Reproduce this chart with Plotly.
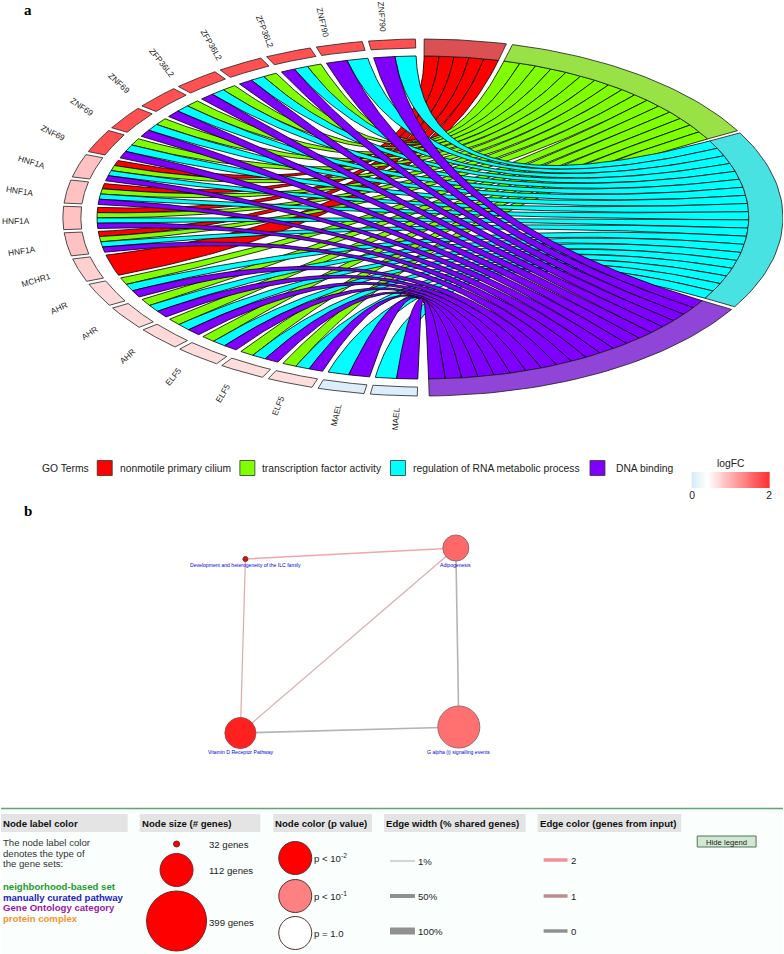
import numpy as np
import plotly.graph_objects as go

# ---------- chord data ----------
genes = ["MAEL", "MAEL", "ELF5", "ELF5", "ELF5", "AHR", "AHR", "AHR", "MCHR1",
         "HNF1A", "HNF1A", "HNF1A", "HNF1A", "ZNF69", "ZNF69", "ZNF69",
         "ZFP36L2", "ZFP36L2", "ZFP36L2", "ZNF790", "ZNF790"]
logfc = [0.06, 0.06, 0.66, 0.66, 0.66, 0.69, 0.69, 0.69, 0.76,
         0.87, 0.87, 0.87, 0.87, 1.74, 1.74, 1.74, 1.74, 1.74, 1.74, 1.74, 1.74]
terms = ["nonmotile primary cilium", "transcription factor activity",
         "regulation of RNA metabolic process", "DNA binding"]
term_colors = ["#FF0000", "#80FF00", "#00FFFF", "#8000FF"]
term_ring_colors = ["#DB5052", "#98E246", "#48E2E2", "#9044D8"]
# gene indexes in each term
term_genes = [
    [8, 9, 10, 11, 12],
    [2, 3, 4, 5, 6, 7, 9, 10, 11, 12, 13, 14, 15, 16, 17, 18],
    [0, 1, 2, 3, 4, 5, 6, 7, 9, 10, 11, 12, 13, 14, 15, 16, 17, 18, 19, 20],
    [0, 1, 2, 3, 4, 5, 6, 7, 9, 10, 11, 12, 13, 14, 15, 16, 17, 18, 19, 20],
]
term_start = [0.2, 14.4, 61.7, 121.0]
term_end = [13.4, 60.9, 120.0, 179.0]
gene_first, gene_pitch, gene_width = 180.9, 8.52, 7.5
scale_pos = [0, 0.2, 1]
scale_rgb = [(214, 236, 251), (255, 255, 255), (255, 48, 48)]
logfc_scale = [[p, "rgb(%d,%d,%d)" % c] for p, c in zip(scale_pos, scale_rgb)]

# ---------- network data ----------
node_names = ["Development and heterogeneity of the ILC family", "Adipogenesis",
              "Vitamin D Receptor Pathway", "G alpha (i) signalling events"]
node_x = [245, 456, 240, 459]
node_y = [559, 548, 733, 727]
node_size = [5, 26, 31, 42]
node_colors = ["#C41A1A", "#FF6868", "#FF2020", "#FF7070"]
node_borders = ["#A02020", "#A06868", "#A84848", "#A06868"]
edges = [(0, 1), (0, 2), (2, 1), (1, 3), (2, 3)]
edge_colors = ["#F2A6A6", "#DDAAAA", "#DDAAAA", "#B4B4B4", "#B4B4B4"]
edge_widths = [1.5, 1.2, 1.2, 1.6, 1.6]

FONT = "Liberation Sans"
fig = go.Figure()


def pt(theta, r):
    a = np.radians(theta)
    return r * np.sin(a), r * np.cos(a)


def poly(xs, ys, fill, line, width, xa="x", ya="y"):
    fig.add_trace(go.Scatter(x=xs, y=ys, mode="lines", fill="toself", fillcolor=fill,
                             line=dict(color=line, width=width), hoverinfo="skip",
                             showlegend=False, xaxis=xa, yaxis=ya))


def arc_band(t0, t1, r0, r1):
    th = np.linspace(t0, t1, 40)
    xa, ya = pt(th, r1)
    xb, yb = pt(th[::-1], r0)
    return np.r_[xa, xb, xa[0]], np.r_[ya, yb, ya[0]]


def fc_color(v):
    f = v / 2
    return "rgb(%d,%d,%d)" % tuple(np.interp(f, scale_pos, [c[i] for c in scale_rgb]) for i in range(3))


R_IN, R_GENE, R_OUT = 0.905, 0.95, 1.0
tt = np.linspace(0, 1, 90)

# gene slots
gene_slots = {}
for g in range(len(genes)):
    member = [k for k in (3, 2, 1, 0) if g in term_genes[k]]
    g0 = gene_first + g * gene_pitch
    w = gene_width / len(member)
    for n, k in enumerate(member):
        gene_slots[(g, k)] = (g0 + n * w, g0 + (n + 1) * w)

# ribbons
for k in range(4):
    order = sorted(term_genes[k], reverse=True)
    w = (term_end[k] - term_start[k]) / len(order)
    for n, g in enumerate(order):
        t0, t1 = term_start[k] + n * w, term_start[k] + (n + 1) * w
        g0, g1 = gene_slots[(g, k)]
        ax, ay = pt(g0, R_IN)
        bx, by = pt(t1, R_IN)
        cx, cy = pt(t0, R_IN)
        dx, dy = pt(g1, R_IN)
        e1x, e1y = (1 - tt) ** 2 * ax + tt ** 2 * bx, (1 - tt) ** 2 * ay + tt ** 2 * by
        e2x, e2y = (1 - tt) ** 2 * cx + tt ** 2 * dx, (1 - tt) ** 2 * cy + tt ** 2 * dy
        a1x, a1y = pt(np.linspace(t1, t0, 8), R_IN)
        a2x, a2y = pt(np.linspace(g1, g0, 8), R_IN)
        poly(np.r_[e1x, a1x, e2x, a2x], np.r_[e1y, a1y, e2y, a2y], term_colors[k], "#000000", 0.8)

# term ring
for k in range(4):
    x, y = arc_band(term_start[k], term_end[k], R_IN, R_OUT)
    poly(x, y, term_ring_colors[k], "#1A1A1A", 0.8)

# gene ring
for g in range(len(genes)):
    g0 = gene_first + g * gene_pitch
    x, y = arc_band(g0, g0 + gene_width, R_GENE, R_OUT)
    poly(x, y, fc_color(logfc[g]), "#222222", 0.8)

ann = []
for g, name in enumerate(genes):
    th = gene_first + (g + 0.5) * gene_pitch
    x, y = pt(th - 1.3, 1.13)
    ann.append(dict(x=x, y=y, xref="x", yref="y", text=name, textangle=th - 270, showarrow=False,
                    font=dict(family=FONT, size=8.3, color="#222222")))


def txt(x, y, s, size=9.6, color="#222222", anchor="left", bold=False, family=FONT):
    px = x - 3 if anchor == "left" else x
    ann.append(dict(x=px, y=y, xref="x2", yref="y2", text=f"<b>{s}</b>" if bold else s, showarrow=False,
                    xanchor=anchor, yanchor="middle", align=anchor,
                    font=dict(family=family, size=size, color=color)))


# ---------- GO legend ----------
txt(27, 10, "a", 15, "#000000", "center", True, "Liberation Serif")
txt(27, 511, "b", 15, "#000000", "center", True, "Liberation Serif")
txt(42, 468, "GO Terms", 10.3)
swatch_x = [104, 247, 398, 598]
label_x = [120, 263, 414, 618]
fig.add_trace(go.Scatter(x=swatch_x, y=[468] * 4, mode="markers", xaxis="x2", yaxis="y2", hoverinfo="skip",
                         showlegend=False, marker=dict(symbol="square", size=15, color=term_colors,
                                                       line=dict(color="#333333", width=0.8))))
for lx, t in zip(label_x, terms):
    txt(lx, 468, t, 10.3)
txt(732, 463, "logFC", 10.3, anchor="center")

# logFC colour bar
bar = np.linspace(0, 2, 81)
fig.add_trace(go.Heatmap(x=bar, y=[0, 1], z=[bar, bar], zmin=0, zmax=2, colorscale=logfc_scale,
                         showscale=False, hoverinfo="skip", xaxis="x3", yaxis="y3"))

# ---------- network ----------
for (a, b), c, w in zip(edges, edge_colors, edge_widths):
    fig.add_trace(go.Scatter(x=[node_x[a], node_x[b]], y=[node_y[a], node_y[b]], mode="lines", xaxis="x2",
                             yaxis="y2", line=dict(color=c, width=w), hoverinfo="skip", showlegend=False))
fig.add_trace(go.Scatter(x=node_x, y=node_y, mode="markers", xaxis="x2", yaxis="y2", hoverinfo="skip",
                         showlegend=False, marker=dict(size=node_size, color=node_colors, opacity=1,
                                                       line=dict(color=node_borders, width=1))))
label_y = [564.5, 564.5, 751.5, 751.5]
for x, y, n in zip(node_x, label_y, node_names):
    txt(x, y, n, 5.1, "#0000DD", "center")

# ---------- bottom legend ----------
shapes = [
    dict(type="rect", xref="x2", yref="y2", x0=0, x1=784, y0=808, y1=954, fillcolor="#FAFFFD",
         line_width=0, layer="below"),
    dict(type="line", xref="x2", yref="y2", x0=0, x1=784, y0=808.5, y1=808.5,
         line=dict(color="#5FA865", width=1.6), layer="below"),
]
headers = ["Node label color", "Node size (# genes)", "Node color (p value)",
           "Edge width (% shared genes)", "Edge color (genes from input)"]
head_x0 = [0, 139, 273, 384, 538]
head_x1 = [127, 260, 372, 526, 682]
for h, a, b in zip(headers, head_x0, head_x1):
    shapes.append(dict(type="rect", xref="x2", yref="y2", x0=a, x1=b, y0=814, y1=832, fillcolor="#E4E4E4",
                       line_width=0, layer="below"))
    txt(a + 3, 823, h, 9.6, "#111111", bold=True)
for y, s in zip([842, 853, 863], ["The node label color", "denotes the type of", "the gene sets:"]):
    txt(3, y, s, 9.6, "#333333")
for y, s, c in zip([886, 897, 907, 918],
                   ["neighborhood-based set", "manually curated pathway", "Gene Ontology category", "protein complex"],
                   ["#1E9A2A", "#2020CC", "#9A18A8", "#F7942E"]):
    txt(3, y, s, 9.6, c, bold=True)

size_legend_y = [844, 870, 921]
size_legend_d = [6, 33, 60]
fig.add_trace(go.Scatter(x=[176] * 3, y=size_legend_y, mode="markers", xaxis="x2", yaxis="y2", hoverinfo="skip",
                         showlegend=False, marker=dict(size=size_legend_d, color="#FF0000", opacity=1,
                                                       line=dict(color="#7A2020", width=1))))
for y, s in zip([844, 870, 922], ["32 genes", "112 genes", "399 genes"]):
    txt(210, y, s)

pval_y = [858, 896, 933]
fig.add_trace(go.Scatter(x=[295] * 3, y=pval_y, mode="markers", xaxis="x2", yaxis="y2", hoverinfo="skip",
                         showlegend=False, marker=dict(size=33, color=["#FF0000", "#FF8080", "#FFFFFF"], opacity=1,
                                                       line=dict(color="#5A3030", width=1))))
for y, s in zip(pval_y, ["p &lt; 10<sup>-2</sup>", "p &lt; 10<sup>-1</sup>", "p = 1.0"]):
    txt(315, y, s)

legend_w = [1, 4, 7]
for y, w, s in zip([861, 896, 931], legend_w, ["1%", "50%", "100%"]):
    fig.add_trace(go.Scatter(x=[390, 415], y=[y, y], mode="lines", xaxis="x2", yaxis="y2", hoverinfo="skip",
                             showlegend=False, line=dict(color="#AAAAAA" if w == 1 else "#909090", width=w)))
    txt(419, y, s)
for y, c, s in zip([860, 896, 931], ["#F09296", "#C08A8C", "#909090"], ["2", "1", "0"]):
    fig.add_trace(go.Scatter(x=[544, 568], y=[y, y], mode="lines", xaxis="x2", yaxis="y2", hoverinfo="skip",
                             showlegend=False, line=dict(color=c, width=3.5)))
    txt(572, y, s)
shapes.append(dict(type="rect", xref="x2", yref="y2", x0=698, x1=757, y0=836, y1=847, fillcolor="#D2E8D2",
                   line=dict(color="#55705A", width=1), layer="above"))
txt(727.5, 842, "Hide legend", 7.7, "#222222", "center")

W, H = 784, 954
CH = 440
off = dict(visible=False, fixedrange=True)
fig.update_layout(
    width=W, height=H, margin=dict(l=0, r=0, t=0, b=0), paper_bgcolor="#FFFFFF", plot_bgcolor="rgba(0,0,0,0)",
    showlegend=False, shapes=shapes, annotations=ann,
    xaxis=dict(domain=[0, 1], range=[-423 / 361, 1.0], anchor="y", **off),
    yaxis=dict(domain=[1 - CH / H, 1], range=[-(CH - 217.5) / 178.5, 217.5 / 178.5], anchor="x", **off),
    xaxis2=dict(domain=[0, 1], range=[0, W], anchor="y2", **off),
    yaxis2=dict(domain=[0, 1], range=[H, 0], anchor="x2", **off),
    xaxis3=dict(domain=[691 / W, 772 / W], range=[-0.05, 2.05], anchor="y3", tickmode="array", tickvals=[0, 2],
                ticks="", showgrid=False, zeroline=False, fixedrange=True, showline=False,
                tickfont=dict(family=FONT, size=10.3, color="#222222")),
    yaxis3=dict(domain=[1 - 488 / H, 1 - 472 / H], range=[0, 1], anchor="x3", **off),
)
fig.write_html("out.html", post_script="document.body.style.margin='0';", config={"displayModeBar": False})
